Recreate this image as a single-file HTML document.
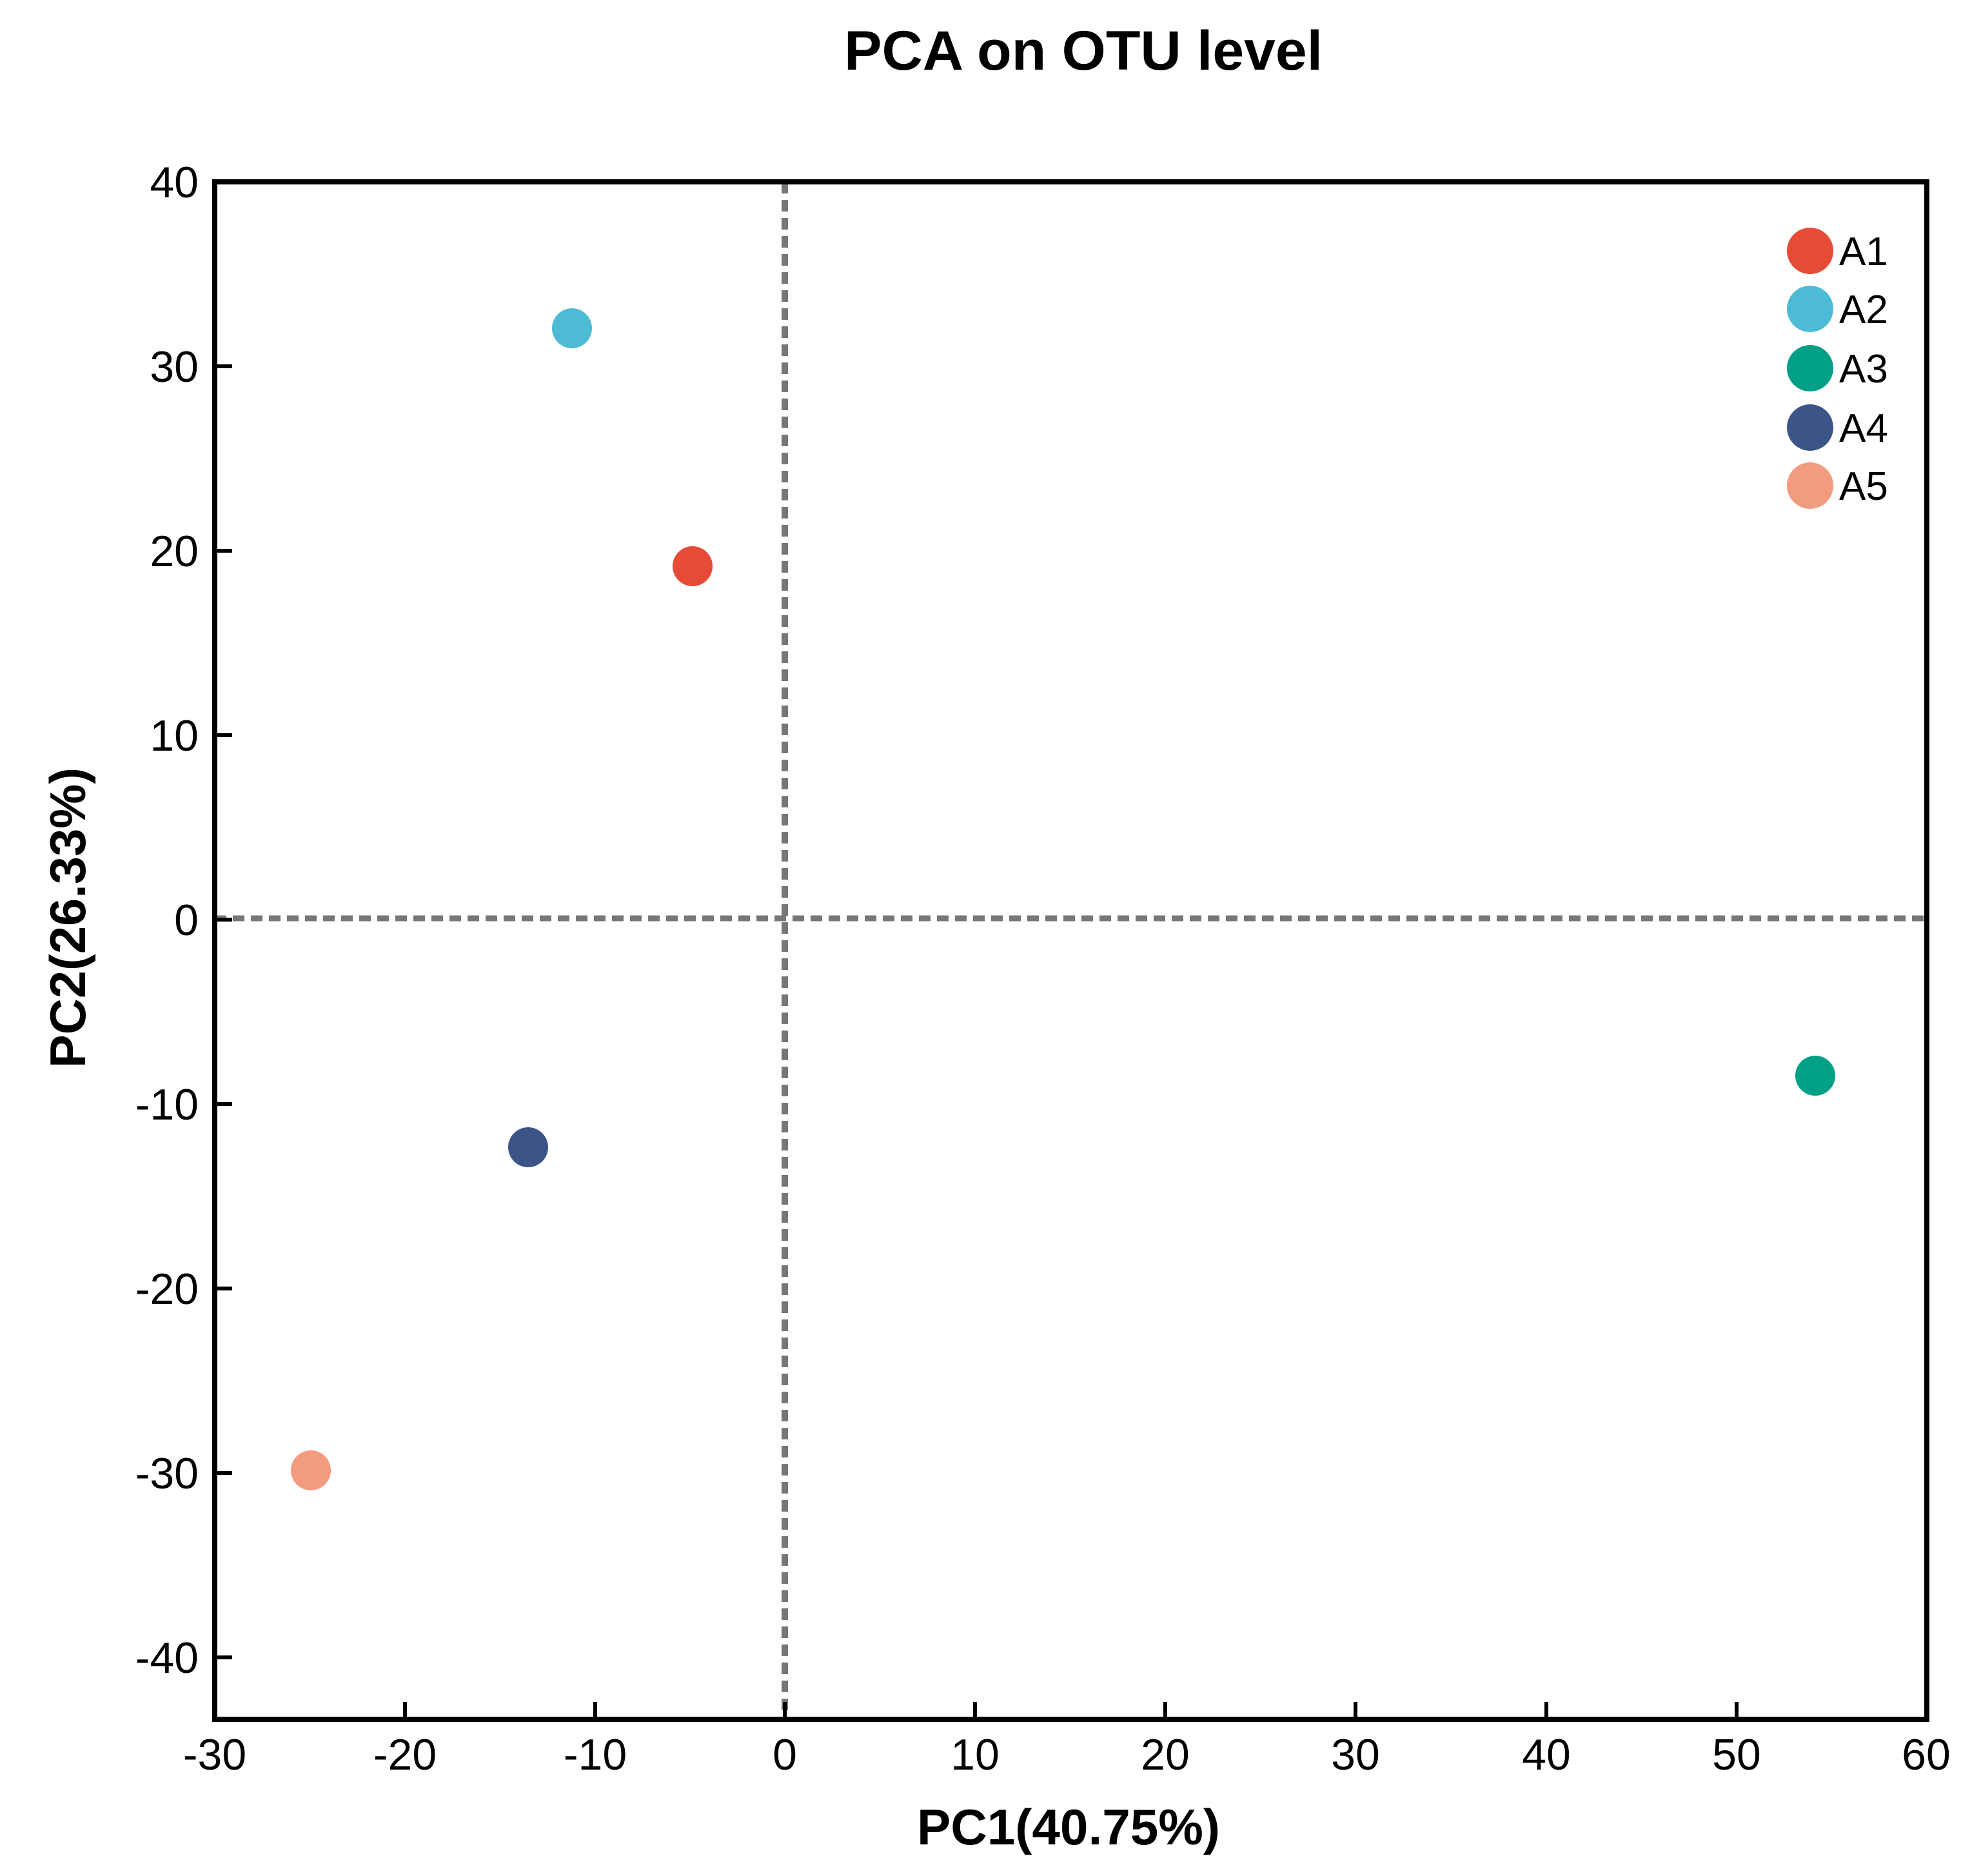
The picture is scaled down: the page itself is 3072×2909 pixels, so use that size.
<!DOCTYPE html>
<html><head><meta charset="utf-8"><style>html,body{margin:0;padding:0;background:#fff}svg{display:block}</style></head>
<body>
<svg width="3072" height="2909" viewBox="0 0 3072 2909" xmlns="http://www.w3.org/2000/svg" font-family="Liberation Sans, Arial, sans-serif">
<rect width="3072" height="2909" fill="#fff"/>
<text x="1680" y="108" font-size="86" font-weight="bold" text-anchor="middle" textLength="742" lengthAdjust="spacingAndGlyphs">PCA on OTU level</text>
<line x1="333" y1="1424" x2="2988" y2="1424" stroke="#777" stroke-width="9" stroke-dasharray="18,10"/>
<line x1="1217" y1="282" x2="1217" y2="2666" stroke="#777" stroke-width="10" stroke-dasharray="18,10"/>
<rect x="333" y="282" width="2655" height="2384" fill="none" stroke="#000" stroke-width="8"/>
<g stroke="#000" stroke-width="6">
<line x1="333" y1="568" x2="360" y2="568"/>
<line x1="333" y1="854" x2="360" y2="854"/>
<line x1="333" y1="1140" x2="360" y2="1140"/>
<line x1="333" y1="1426" x2="360" y2="1426"/>
<line x1="333" y1="1712" x2="360" y2="1712"/>
<line x1="333" y1="1998" x2="360" y2="1998"/>
<line x1="333" y1="2284" x2="360" y2="2284"/>
<line x1="333" y1="2570" x2="360" y2="2570"/>
<line x1="628" y1="2666" x2="628" y2="2639"/>
<line x1="923" y1="2666" x2="923" y2="2639"/>
<line x1="1217" y1="2666" x2="1217" y2="2639"/>
<line x1="1512" y1="2666" x2="1512" y2="2639"/>
<line x1="1807" y1="2666" x2="1807" y2="2639"/>
<line x1="2102" y1="2666" x2="2102" y2="2639"/>
<line x1="2398" y1="2666" x2="2398" y2="2639"/>
<line x1="2693" y1="2666" x2="2693" y2="2639"/>
</g>
<g font-size="68" text-anchor="end">
<text x="308" y="306">40</text>
<text x="308" y="592">30</text>
<text x="308" y="878">20</text>
<text x="308" y="1164">10</text>
<text x="308" y="1450">0</text>
<text x="308" y="1736">-10</text>
<text x="308" y="2022">-20</text>
<text x="308" y="2308">-30</text>
<text x="308" y="2594">-40</text>
</g>
<g font-size="68" text-anchor="middle">
<text x="333" y="2744">-30</text>
<text x="628" y="2744">-20</text>
<text x="923" y="2744">-10</text>
<text x="1217" y="2744">0</text>
<text x="1512" y="2744">10</text>
<text x="1807" y="2744">20</text>
<text x="2102" y="2744">30</text>
<text x="2398" y="2744">40</text>
<text x="2693" y="2744">50</text>
<text x="2987" y="2744">60</text>
</g>
<text x="1657" y="2860" font-size="78" font-weight="bold" text-anchor="middle" textLength="470" lengthAdjust="spacingAndGlyphs">PC1(40.75%)</text>
<text transform="translate(132,1423) rotate(-90)" font-size="78" font-weight="bold" text-anchor="middle" textLength="466" lengthAdjust="spacingAndGlyphs">PC2(26.33%)</text>
<circle cx="887" cy="509" r="31" fill="#4dbbd5"/>
<circle cx="1074" cy="878" r="31" fill="#e64b35"/>
<circle cx="819" cy="1779" r="31" fill="#3c5488"/>
<circle cx="482" cy="2280" r="31" fill="#f39b7f"/>
<circle cx="2815" cy="1668" r="31" fill="#00a087"/>
<circle cx="2807" cy="389" r="36" fill="#e64b35"/>
<circle cx="2807" cy="479" r="36" fill="#4dbbd5"/>
<circle cx="2807" cy="571" r="36" fill="#00a087"/>
<circle cx="2807" cy="663" r="36" fill="#3c5488"/>
<circle cx="2807" cy="753" r="36" fill="#f39b7f"/>
<g font-size="62">
<text x="2852" y="411">A1</text>
<text x="2852" y="501">A2</text>
<text x="2852" y="593">A3</text>
<text x="2852" y="685">A4</text>
<text x="2852" y="775">A5</text>
</g>
</svg>
</body></html>
